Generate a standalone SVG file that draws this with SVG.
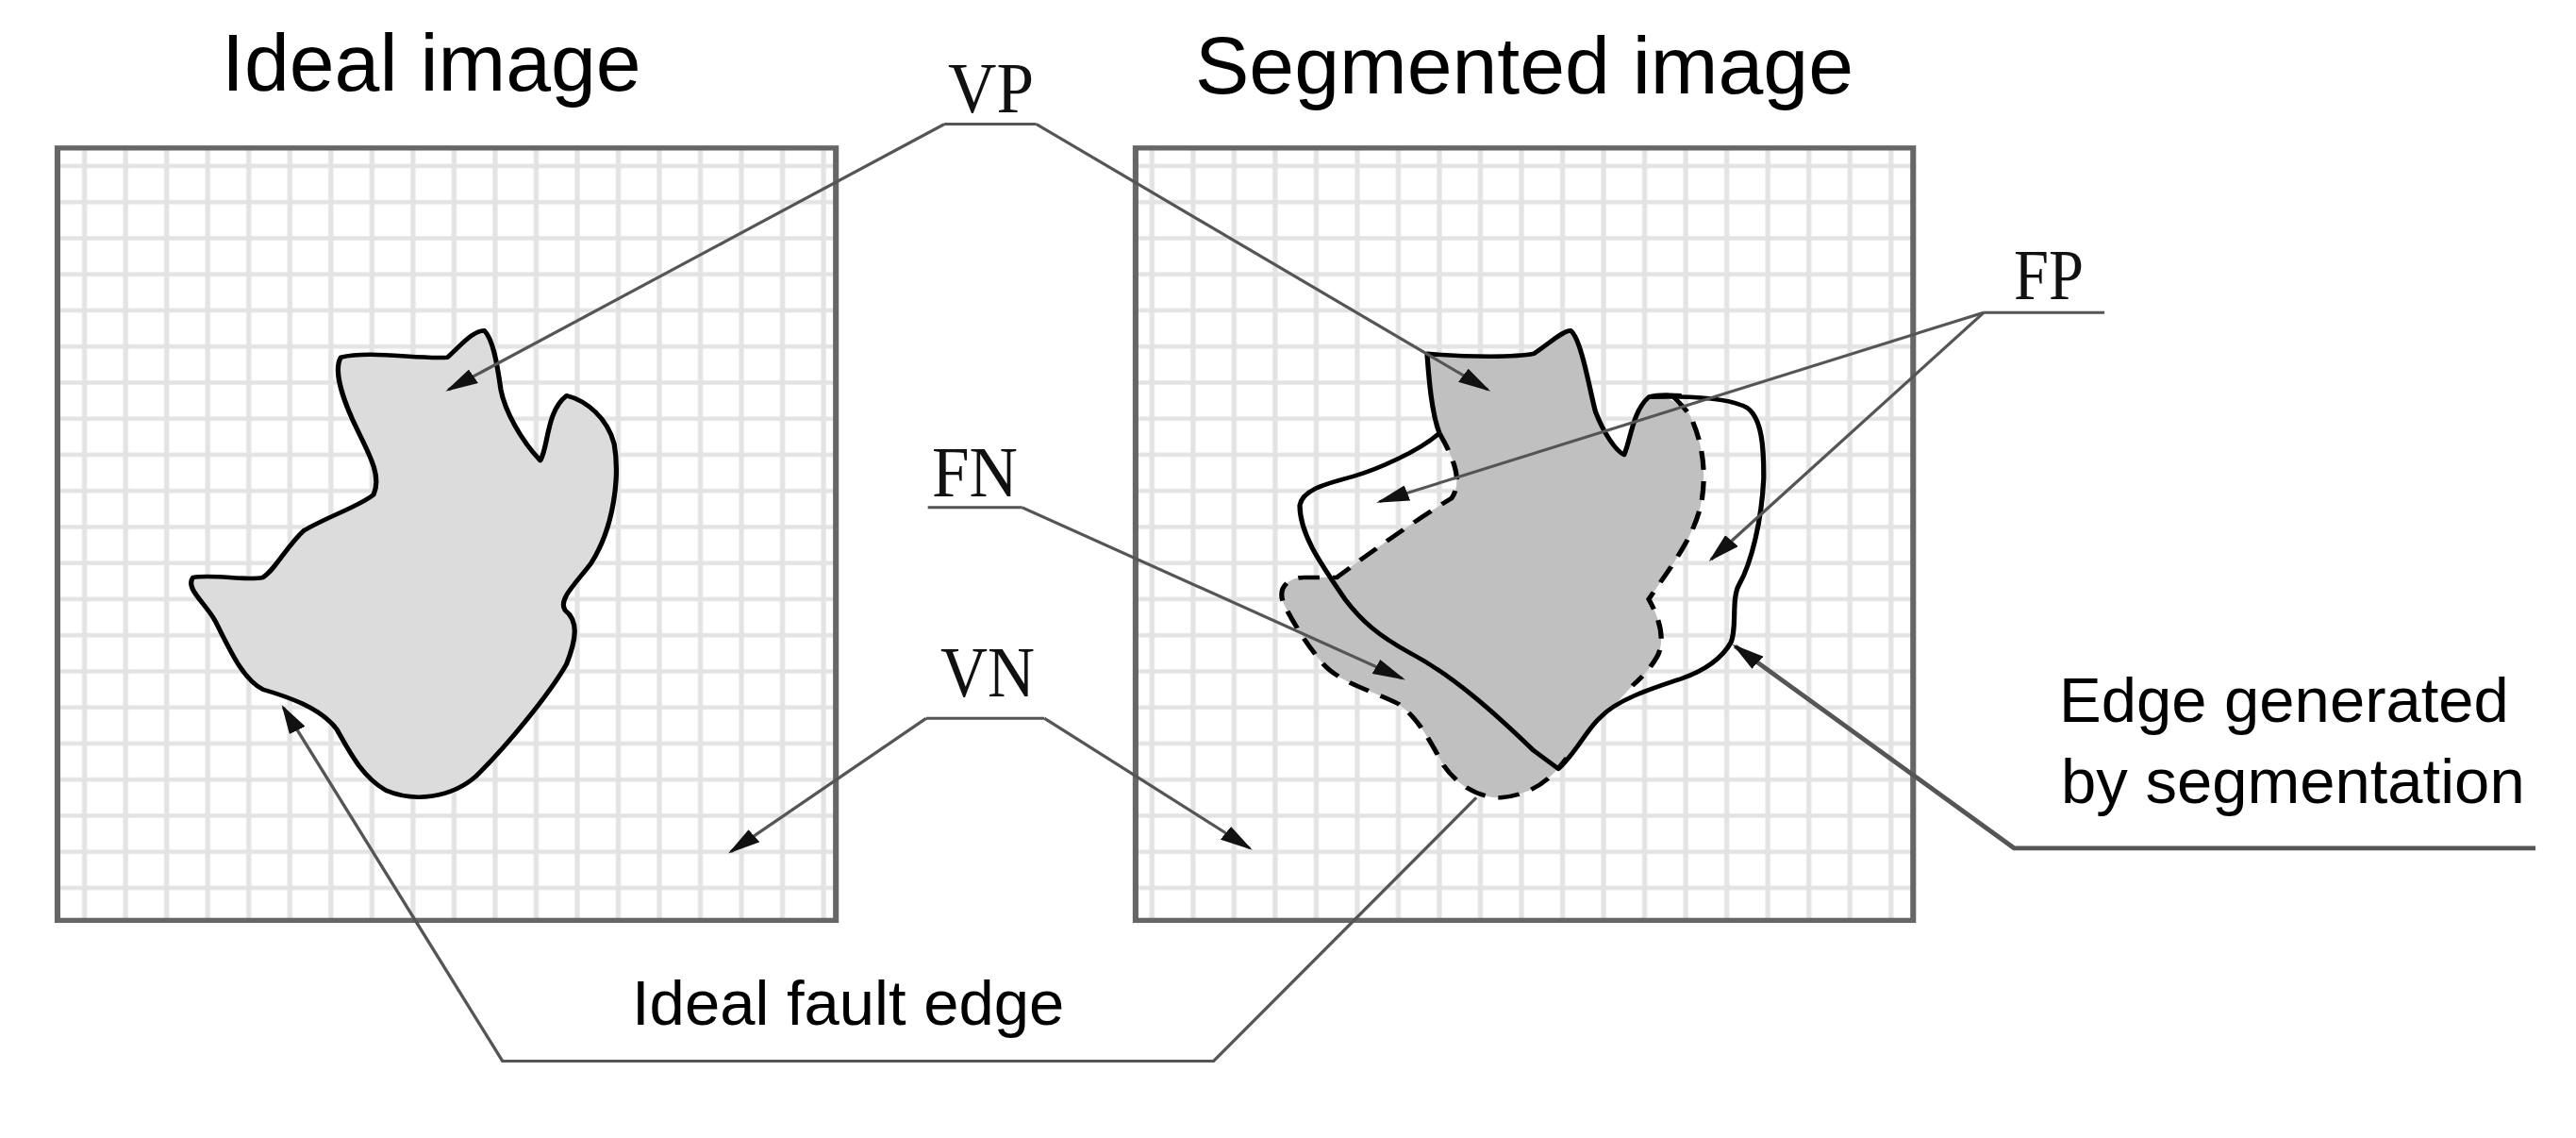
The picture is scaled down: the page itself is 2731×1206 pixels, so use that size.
<svg xmlns="http://www.w3.org/2000/svg" width="2731" height="1206" viewBox="0 0 2731 1206">
<style>
.title{font-family:"Liberation Sans",Arial,sans-serif;font-size:86px;fill:#000}
.lab{font-family:"Liberation Sans",Arial,sans-serif;font-size:67px;fill:#000}
.ser{font-family:"Liberation Serif","Times New Roman",serif;font-size:76px;fill:#111}
.box{fill:url(#grid);stroke:#666;stroke-width:7}
.ldr{fill:none;stroke:#555;stroke-width:4}
.edge{fill:none;stroke:#000;stroke-width:6;stroke-linejoin:round}
.dash{fill:none;stroke:#000;stroke-width:6;stroke-dasharray:26 16}
</style>
<defs>
<pattern id="grid" patternUnits="userSpaceOnUse" x="78" y="205" width="50" height="50">
<rect width="50" height="50" fill="#fff"/>
<path d="M25 0V50M0 25H50" stroke="#e3e3e3" stroke-width="6"/>
</pattern>
<marker id="ah" viewBox="0 0 10 10" refX="9" refY="5" markerWidth="40" markerHeight="22" markerUnits="userSpaceOnUse" orient="auto" preserveAspectRatio="none">
<path d="M0 0L10 5L0 10z" fill="#111"/>
</marker>
</defs>
<rect width="2731" height="1206" fill="#fff"/>
<g transform="scale(0.8705,0.765)">
<g id="ideal-image">
<rect class="box" x="70" y="205" width="948" height="1070"/>
<path class="edge" style="fill:#dcdcdc" d="M415 495C450 485 510 498 545 495C560 480 575 458 590 458C600 470 605 500 610 540C615 570 635 610 658 638C668 620 665 570 690 548C715 555 740 580 748 615C755 660 748 730 720 780C700 810 680 830 688 845C705 860 702 885 690 920C670 960 620 1030 580 1075C550 1105 505 1112 470 1095C440 1075 425 1040 410 1010C390 980 350 965 320 955C295 940 280 900 262 860C250 835 225 815 235 800C260 795 300 805 320 800C335 790 350 755 370 735C400 715 440 700 455 685C465 660 450 630 435 595C420 560 405 515 415 495Z"/>
</g>
<g id="segmented-image">
<rect class="box" x="1383" y="205" width="947" height="1070"/>
<g transform="translate(1568,0)">
<path fill="#c0c0c0" d="M170 490C220 495 280 495 300 490C320 475 335 458 345 458C358 470 368 540 375 570C385 600 400 625 410 630C418 610 420 570 440 550C460 545 480 560 490 575C505 610 510 650 505 690C498 740 470 780 440 830C455 860 460 890 450 910C440 930 425 945 420 950C400 975 370 1010 340 1050C320 1080 300 1100 260 1105C230 1105 205 1085 190 1060C175 1030 160 995 135 975C100 955 60 945 40 915C25 895 5 860 -5 835C-12 815 0 800 20 800L60 800C95 770 150 725 200 690C215 665 200 630 185 600C175 570 172 520 170 490Z"/>
<path class="dash" d="M185 600C200 630 215 665 200 690C150 725 95 770 60 800L20 800C0 800 -12 815 -5 835C5 860 25 895 40 915C60 945 100 955 135 975C160 995 175 1030 190 1060C205 1085 230 1105 260 1105C300 1100 320 1080 340 1050"/>
<path class="dash" d="M470 550C480 560 490 575 490 575C505 610 510 650 505 690C498 740 470 780 440 830C455 860 460 890 450 910C440 930 425 945 420 950"/>
<path class="edge" d="M185 600C175 570 172 520 170 490C220 495 280 495 300 490C320 475 335 458 345 458C358 470 368 540 375 570C385 600 400 625 410 630C418 610 420 570 440 550C455 545 470 548 480 548"/>
<path class="edge" d="M185 600C160 625 110 650 80 660C40 672 18 680 15 700C15 740 40 780 70 830C90 860 110 880 150 905C200 935 250 985 300 1040L330 1065C350 1045 365 1010 380 995C400 970 440 955 480 940C510 928 530 910 540 890C548 870 540 830 550 810C565 780 578 720 580 660C580 620 578 580 560 565C540 552 500 548 440 550"/>
</g>
</g>
<g id="connectors">
<path class="ldr" marker-end="url(#ah)" d="M2416 433L1680 695"/>
<path class="ldr" marker-end="url(#ah)" d="M2416 433L2084 775"/>
<path class="ldr" d="M2416 433H2563"/>
<path class="ldr" marker-end="url(#ah)" style="stroke-width:6" d="M3088 1175L2453 1175L2113 895"/>
<path class="ldr" marker-end="url(#ah)" d="M1262 172L1812 540"/>
<path class="ldr" marker-end="url(#ah)" d="M1150 172L546 540"/>
<path class="ldr" d="M1150 172H1262"/>
<path class="ldr" d="M1130 703H1245"/>
<path class="ldr" marker-end="url(#ah)" d="M1245 703L1708 940"/>
<path class="ldr" d="M1128 995H1272"/>
<path class="ldr" marker-end="url(#ah)" d="M1128 995L890 1180"/>
<path class="ldr" marker-end="url(#ah)" d="M1272 995L1522 1175"/>
<path class="ldr" marker-end="url(#ah)" d="M1798 1105L1478 1470L612 1470L345 980"/>
</g>
</g>
<g id="labels">
<text class="title" x="235" y="96">Ideal image</text>
<text class="title" x="1267" y="99">Segmented image</text>
<text class="ser" x="1005" y="119" textLength="91" lengthAdjust="spacingAndGlyphs">VP</text>
<text class="ser" x="988" y="526" textLength="91" lengthAdjust="spacingAndGlyphs">FN</text>
<text class="ser" x="997" y="738" textLength="100" lengthAdjust="spacingAndGlyphs">VN</text>
<text class="ser" x="2135" y="317" textLength="74" lengthAdjust="spacingAndGlyphs">FP</text>
<text class="lab" x="670" y="1086">Ideal fault edge</text>
<text class="lab" x="2183" y="765">Edge generated</text>
<text class="lab" x="2185" y="851">by segmentation</text>
</g>
</svg>
